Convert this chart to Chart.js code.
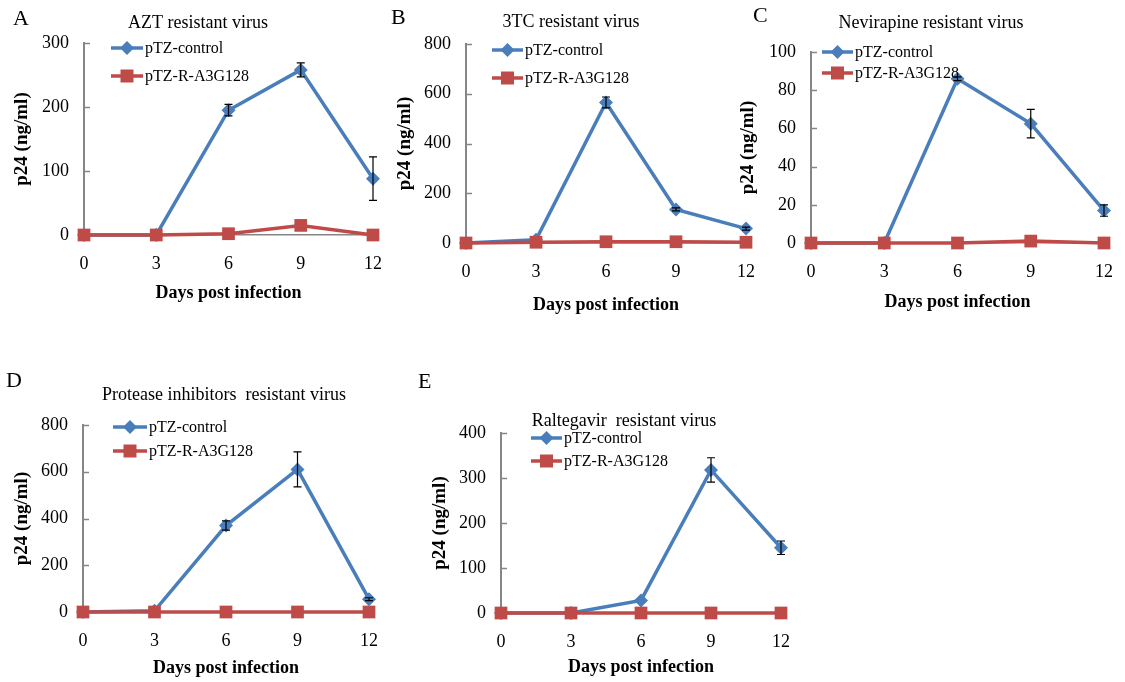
<!DOCTYPE html>
<html>
<head>
<meta charset="utf-8">
<script src="https://cdn.jsdelivr.net/npm/chart.js@4.4.0/dist/chart.umd.min.js"></script>
<style>
  body { margin: 0; background: #fff; }
  #wrap { position: relative; width: 1125px; height: 682px; overflow: hidden; }
  canvas { position: absolute; }
</style>
</head>
<body>
<div id="wrap"></div>
<script>
// data
const days = [0, 3, 6, 9, 12];
const seriesNames = ['pTZ-control', 'pTZ-R-A3G128'];
const xTitle = 'Days post infection';
const yTitle = 'p24 (ng/ml)';

const aztControl = [0, 0, 195, 258, 88];
const aztControlErr = [0, 0, 9, 11, 34];
const aztA3G = [0, 0, 2, 15, 0];

const tcControl = [0, 13, 565, 135, 58];
const tcControlErr = [0, 0, 22, 6, 6];
const tcA3G = [0, 3, 5, 5, 3];

const nevControl = [0, 0, 86, 62.5, 17];
const nevControlErr = [0, 0, 1, 7.5, 3];
const nevA3G = [0, 0, 0, 1, 0];

const piControl = [0, 5, 370, 610, 55];
const piControlErr = [0, 0, 20, 75, 6];
const piA3G = [0, 0, 0, 0, 0];

const ralControl = [0, 0, 28, 318, 145];
const ralControlErr = [0, 0, 0, 27, 15];
const ralA3G = [0, 0, 0, 0, 0];

const panelLetters = ['A', 'B', 'C', 'D', 'E'];
const panelTitles = ['AZT resistant virus', '3TC resistant virus', 'Nevirapine resistant virus',
  'Protease inhibitors  resistant virus', 'Raltegavir  resistant virus'];
const yMaxes = [300, 800, 100, 800, 400];
const ySteps = [100, 200, 20, 200, 100];

// layout of each panel (page pixels)
const panels = [
  { control: aztControl, err: aztControlErr, a3g: aztA3G,
    box: [0, 0, 385, 320], area: [84, 373, 43, 235],
    yTitleX: 22, xTitleY: 293, titlePos: [198, 23], letterPos: [13, 19], legend: [111, 143, 48, 76] },
  { control: tcControl, err: tcControlErr, a3g: tcA3G,
    box: [375, 0, 385, 320], area: [466, 746, 44, 243],
    yTitleX: 405, xTitleY: 305, titlePos: [571, 22], letterPos: [391, 18], legend: [492, 523, 50, 78] },
  { control: nevControl, err: nevControlErr, a3g: nevA3G,
    box: [735, 0, 390, 320], area: [811, 1104, 52, 243],
    yTitleX: 748, xTitleY: 302, titlePos: [931, 23], letterPos: [753, 16], legend: [822, 853, 52, 73] },
  { control: piControl, err: piControlErr, a3g: piA3G,
    box: [0, 365, 385, 317], area: [83, 369, 425, 612],
    yTitleX: 22, xTitleY: 668, titlePos: [224, 395], letterPos: [6, 381], legend: [113, 147, 427, 451] },
  { control: ralControl, err: ralControlErr, a3g: ralA3G,
    box: [410, 365, 390, 317], area: [501, 781, 433, 613],
    yTitleX: 440, xTitleY: 667, titlePos: [624, 421], letterPos: [418, 382], legend: [531, 562, 438, 461] }
];

const blue = '#4A7EBB';
const red = '#BE4B48';
const axisGrey = '#868686';
const serif = "'Liberation Serif', 'Times New Roman', serif";

Chart.defaults.font.family = serif;
Chart.defaults.color = '#000';

const panelOf = new WeakMap();

const deco = {
  id: 'deco',
  beforeDatasetsDraw(chart) {
    const ctx = chart.ctx, x = chart.scales.x, y = chart.scales.y;
    ctx.save();
    ctx.strokeStyle = axisGrey;
    ctx.lineWidth = 1.5;
    y.ticks.forEach(t => {
      const py = Math.round(y.getPixelForValue(t.value)) + 0.5;
      ctx.beginPath();
      ctx.moveTo(x.left, py);
      ctx.lineTo(x.left + 6, py);
      ctx.stroke();
    });
    ctx.restore();
  },
  afterDatasetsDraw(chart) {
    const p = panelOf.get(chart.canvas);
    const ctx = chart.ctx, x = chart.scales.x, y = chart.scales.y;
    ctx.save();
    ctx.strokeStyle = '#000';
    ctx.lineWidth = 1.2;
    p.err.forEach((e, i) => {
      if (!e) return;
      const v = p.control[i];
      const px = x.getPixelForValue(days[i]);
      const top = y.getPixelForValue(v + e), bot = y.getPixelForValue(v - e);
      ctx.beginPath();
      ctx.moveTo(px, top); ctx.lineTo(px, bot);
      ctx.moveTo(px - 4, top); ctx.lineTo(px + 4, top);
      ctx.moveTo(px - 4, bot); ctx.lineTo(px + 4, bot);
      ctx.stroke();
    });
    ctx.restore();
  },
  afterDraw(chart) {
    const p = panelOf.get(chart.canvas);
    const ctx = chart.ctx;
    const ox = p.box[0], oy = p.box[1];
    ctx.save();
    ctx.fillStyle = '#000';
    ctx.textBaseline = 'middle';
    ctx.font = '22px ' + serif;
    ctx.textAlign = 'left';
    ctx.fillText(p.letter, p.letterPos[0] - ox, p.letterPos[1] - oy);
    ctx.font = '18px ' + serif;
    ctx.textAlign = 'center';
    ctx.fillText(p.title, p.titlePos[0] - ox, p.titlePos[1] - oy);

    // legend
    const [lx0, lx1, ly0, ly1] = p.legend;
    chart.data.datasets.forEach((ds, k) => {
      const ly = (k === 0 ? ly0 : ly1) - oy;
      const a = lx0 - ox, b = lx1 - ox, m = (a + b) / 2;
      ctx.strokeStyle = ds.borderColor;
      ctx.lineWidth = 3.5;
      ctx.beginPath(); ctx.moveTo(a, ly); ctx.lineTo(b, ly); ctx.stroke();
      ctx.fillStyle = ds.backgroundColor;
      ctx.beginPath();
      if (k === 0) {
        ctx.moveTo(m, ly - 7); ctx.lineTo(m + 7, ly); ctx.lineTo(m, ly + 7); ctx.lineTo(m - 7, ly);
        ctx.closePath();
      } else {
        ctx.rect(m - 6.5, ly - 6.5, 13, 13);
      }
      ctx.fill();
      ctx.fillStyle = '#000';
      ctx.font = '16px ' + serif;
      ctx.textAlign = 'left';
      ctx.fillText(ds.label, b + 2, ly + 1);
    });
    ctx.restore();
  }
};

const wrap = document.getElementById('wrap');

panels.forEach((p, n) => {
  p.letter = panelLetters[n];
  p.title = panelTitles[n];
  const [cx, cy, cw, ch] = p.box;
  const [L, R, T, B] = p.area;
  const cv = document.createElement('canvas');
  cv.width = cw; cv.height = ch;
  cv.style.left = cx + 'px'; cv.style.top = cy + 'px';
  cv.style.width = cw + 'px'; cv.style.height = ch + 'px';
  wrap.appendChild(cv);
  panelOf.set(cv, p);

  new Chart(cv, {
    type: 'line',
    data: {
      datasets: [
        {
          label: seriesNames[0],
          data: days.map((d, i) => ({ x: d, y: p.control[i] })),
          borderColor: blue, backgroundColor: blue,
          borderWidth: 3.5, pointStyle: 'rectRot', pointRadius: 7, pointBorderWidth: 0,
          tension: 0, clip: false, order: 1
        },
        {
          label: seriesNames[1],
          data: days.map((d, i) => ({ x: d, y: p.a3g[i] })),
          borderColor: red, backgroundColor: red,
          borderWidth: 3.5, pointStyle: 'rect', pointRadius: 9, pointBorderWidth: 0,
          tension: 0, clip: false, order: 0
        }
      ]
    },
    options: {
      responsive: false,
      animation: false,
      layout: { padding: { left: 0, top: T - cy, right: cx + cw - R, bottom: 0 } },
      plugins: { legend: { display: false }, tooltip: { enabled: false } },
      scales: {
        x: {
          type: 'linear', min: 0, max: 12,
          grid: { display: false, drawTicks: false },
          border: { display: true, color: axisGrey, width: 1.5 },
          ticks: { stepSize: 3, padding: 18, maxRotation: 0, autoSkip: false, font: { size: 18 } },
          title: { display: true, text: xTitle, font: { size: 18, weight: 'bold' },
                   padding: { top: 0, bottom: Math.max(0, cy + ch - p.xTitleY - 10.8) } },
          afterFit(s) { s.height = cy + ch - B; s.paddingLeft = 0; s.paddingRight = 0; }
        },
        y: {
          min: 0, max: yMaxes[n],
          grid: { display: false, drawTicks: false },
          border: { display: true, color: axisGrey, width: 2 },
          ticks: { stepSize: ySteps[n], padding: 15, font: { size: 18 } },
          title: { display: true, text: yTitle, font: { size: 19, weight: 'bold' },
                   padding: { top: Math.max(0, p.yTitleX - cx - 11.4), bottom: 0 } },
          afterFit(s) { s.width = L - cx; s.paddingTop = 0; s.paddingBottom = 0; }
        }
      }
    },
    plugins: [deco]
  });
});
</script>
</body>
</html>
